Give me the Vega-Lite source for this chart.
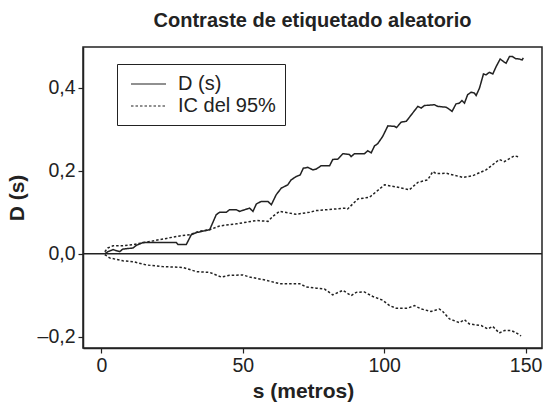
{
  "$schema": "https://vega.github.io/schema/vega-lite/v6.json",
  "autosize": "none",
  "width": 459,
  "height": 301,
  "padding": {"left": 83, "top": 47, "right": 1, "bottom": 55},
  "background": "white",
  "title": {"text": "Contraste de etiquetado aleatorio", "font": "Liberation Sans", "fontSize": 20, "fontWeight": "bold", "color": "#222", "offset": 16, "anchor": "middle"},
  "config": {
    "view": {"stroke": "#222", "strokeWidth": 1.5},
    "axis": {"grid": false, "domainColor": "#222", "domainWidth": 1.5, "tickColor": "#222", "tickWidth": 1.2, "tickSize": 5, "labelFont": "Liberation Sans", "labelFontSize": 19.5, "labelColor": "#222", "titleFont": "Liberation Sans", "titleFontSize": 21, "titleFontWeight": "bold", "titleColor": "#222"}
  },
  "datasets": {
    "curvas": [
      {"s": 1.2, "D": 0.0, "serie": "D (s)", "banda": "D"},
      {"s": 2.3, "D": 0.005, "serie": "D (s)", "banda": "D"},
      {"s": 4.1, "D": 0.01, "serie": "D (s)", "banda": "D"},
      {"s": 6.5, "D": 0.005, "serie": "D (s)", "banda": "D"},
      {"s": 7.5, "D": 0.011, "serie": "D (s)", "banda": "D"},
      {"s": 11.2, "D": 0.014, "serie": "D (s)", "banda": "D"},
      {"s": 12.3, "D": 0.02, "serie": "D (s)", "banda": "D"},
      {"s": 14.7, "D": 0.027, "serie": "D (s)", "banda": "D"},
      {"s": 26.5, "D": 0.027, "serie": "D (s)", "banda": "D"},
      {"s": 27.1, "D": 0.022, "serie": "D (s)", "banda": "D"},
      {"s": 30.0, "D": 0.022, "serie": "D (s)", "banda": "D"},
      {"s": 31.8, "D": 0.046, "serie": "D (s)", "banda": "D"},
      {"s": 33.6, "D": 0.051, "serie": "D (s)", "banda": "D"},
      {"s": 38.3, "D": 0.058, "serie": "D (s)", "banda": "D"},
      {"s": 40.6, "D": 0.094, "serie": "D (s)", "banda": "D"},
      {"s": 41.8, "D": 0.1, "serie": "D (s)", "banda": "D"},
      {"s": 44.2, "D": 0.1, "serie": "D (s)", "banda": "D"},
      {"s": 45.3, "D": 0.106, "serie": "D (s)", "banda": "D"},
      {"s": 47.7, "D": 0.106, "serie": "D (s)", "banda": "D"},
      {"s": 48.9, "D": 0.102, "serie": "D (s)", "banda": "D"},
      {"s": 52.4, "D": 0.11, "serie": "D (s)", "banda": "D"},
      {"s": 53.6, "D": 0.102, "serie": "D (s)", "banda": "D"},
      {"s": 54.8, "D": 0.12, "serie": "D (s)", "banda": "D"},
      {"s": 56.5, "D": 0.126, "serie": "D (s)", "banda": "D"},
      {"s": 58.9, "D": 0.126, "serie": "D (s)", "banda": "D"},
      {"s": 60.1, "D": 0.118, "serie": "D (s)", "banda": "D"},
      {"s": 61.8, "D": 0.142, "serie": "D (s)", "banda": "D"},
      {"s": 63.6, "D": 0.158, "serie": "D (s)", "banda": "D"},
      {"s": 65.9, "D": 0.166, "serie": "D (s)", "banda": "D"},
      {"s": 67.1, "D": 0.178, "serie": "D (s)", "banda": "D"},
      {"s": 68.9, "D": 0.186, "serie": "D (s)", "banda": "D"},
      {"s": 70.3, "D": 0.19, "serie": "D (s)", "banda": "D"},
      {"s": 71.4, "D": 0.206, "serie": "D (s)", "banda": "D"},
      {"s": 73.0, "D": 0.208, "serie": "D (s)", "banda": "D"},
      {"s": 74.8, "D": 0.202, "serie": "D (s)", "banda": "D"},
      {"s": 76.0, "D": 0.204, "serie": "D (s)", "banda": "D"},
      {"s": 77.7, "D": 0.212, "serie": "D (s)", "banda": "D"},
      {"s": 80.7, "D": 0.212, "serie": "D (s)", "banda": "D"},
      {"s": 81.8, "D": 0.227, "serie": "D (s)", "banda": "D"},
      {"s": 83.6, "D": 0.228, "serie": "D (s)", "banda": "D"},
      {"s": 85.4, "D": 0.241, "serie": "D (s)", "banda": "D"},
      {"s": 87.7, "D": 0.239, "serie": "D (s)", "banda": "D"},
      {"s": 88.3, "D": 0.234, "serie": "D (s)", "banda": "D"},
      {"s": 89.5, "D": 0.241, "serie": "D (s)", "banda": "D"},
      {"s": 93.0, "D": 0.241, "serie": "D (s)", "banda": "D"},
      {"s": 94.2, "D": 0.248, "serie": "D (s)", "banda": "D"},
      {"s": 95.4, "D": 0.243, "serie": "D (s)", "banda": "D"},
      {"s": 96.6, "D": 0.26, "serie": "D (s)", "banda": "D"},
      {"s": 97.7, "D": 0.265, "serie": "D (s)", "banda": "D"},
      {"s": 99.5, "D": 0.283, "serie": "D (s)", "banda": "D"},
      {"s": 101.3, "D": 0.308, "serie": "D (s)", "banda": "D"},
      {"s": 103.6, "D": 0.307, "serie": "D (s)", "banda": "D"},
      {"s": 104.4, "D": 0.304, "serie": "D (s)", "banda": "D"},
      {"s": 106.0, "D": 0.317, "serie": "D (s)", "banda": "D"},
      {"s": 107.8, "D": 0.319, "serie": "D (s)", "banda": "D"},
      {"s": 111.9, "D": 0.355, "serie": "D (s)", "banda": "D"},
      {"s": 113.1, "D": 0.351, "serie": "D (s)", "banda": "D"},
      {"s": 114.2, "D": 0.357, "serie": "D (s)", "banda": "D"},
      {"s": 117.8, "D": 0.359, "serie": "D (s)", "banda": "D"},
      {"s": 118.9, "D": 0.355, "serie": "D (s)", "banda": "D"},
      {"s": 121.9, "D": 0.353, "serie": "D (s)", "banda": "D"},
      {"s": 122.8, "D": 0.349, "serie": "D (s)", "banda": "D"},
      {"s": 124.0, "D": 0.343, "serie": "D (s)", "banda": "D"},
      {"s": 125.4, "D": 0.361, "serie": "D (s)", "banda": "D"},
      {"s": 126.6, "D": 0.363, "serie": "D (s)", "banda": "D"},
      {"s": 127.5, "D": 0.369, "serie": "D (s)", "banda": "D"},
      {"s": 128.4, "D": 0.363, "serie": "D (s)", "banda": "D"},
      {"s": 129.5, "D": 0.383, "serie": "D (s)", "banda": "D"},
      {"s": 130.7, "D": 0.389, "serie": "D (s)", "banda": "D"},
      {"s": 131.9, "D": 0.387, "serie": "D (s)", "banda": "D"},
      {"s": 132.5, "D": 0.381, "serie": "D (s)", "banda": "D"},
      {"s": 133.7, "D": 0.399, "serie": "D (s)", "banda": "D"},
      {"s": 135.1, "D": 0.433, "serie": "D (s)", "banda": "D"},
      {"s": 136.0, "D": 0.431, "serie": "D (s)", "banda": "D"},
      {"s": 137.2, "D": 0.437, "serie": "D (s)", "banda": "D"},
      {"s": 138.4, "D": 0.433, "serie": "D (s)", "banda": "D"},
      {"s": 139.6, "D": 0.451, "serie": "D (s)", "banda": "D"},
      {"s": 141.0, "D": 0.469, "serie": "D (s)", "banda": "D"},
      {"s": 142.2, "D": 0.463, "serie": "D (s)", "banda": "D"},
      {"s": 143.1, "D": 0.459, "serie": "D (s)", "banda": "D"},
      {"s": 144.3, "D": 0.475, "serie": "D (s)", "banda": "D"},
      {"s": 145.4, "D": 0.475, "serie": "D (s)", "banda": "D"},
      {"s": 146.4, "D": 0.47, "serie": "D (s)", "banda": "D"},
      {"s": 147.8, "D": 0.469, "serie": "D (s)", "banda": "D"},
      {"s": 148.8, "D": 0.467, "serie": "D (s)", "banda": "D"},
      {"s": 149.2, "D": 0.472, "serie": "D (s)", "banda": "D"},

      {"s": 1.2, "D": 0.005, "serie": "IC del 95%", "banda": "sup"},
      {"s": 2.3, "D": 0.014, "serie": "IC del 95%", "banda": "sup"},
      {"s": 4.1, "D": 0.019, "serie": "IC del 95%", "banda": "sup"},
      {"s": 7.6, "D": 0.019, "serie": "IC del 95%", "banda": "sup"},
      {"s": 11.2, "D": 0.022, "serie": "IC del 95%", "banda": "sup"},
      {"s": 15.9, "D": 0.028, "serie": "IC del 95%", "banda": "sup"},
      {"s": 23.0, "D": 0.037, "serie": "IC del 95%", "banda": "sup"},
      {"s": 27.7, "D": 0.043, "serie": "IC del 95%", "banda": "sup"},
      {"s": 31.2, "D": 0.046, "serie": "IC del 95%", "banda": "sup"},
      {"s": 34.7, "D": 0.054, "serie": "IC del 95%", "banda": "sup"},
      {"s": 38.3, "D": 0.058, "serie": "IC del 95%", "banda": "sup"},
      {"s": 41.8, "D": 0.067, "serie": "IC del 95%", "banda": "sup"},
      {"s": 47.7, "D": 0.072, "serie": "IC del 95%", "banda": "sup"},
      {"s": 54.8, "D": 0.08, "serie": "IC del 95%", "banda": "sup"},
      {"s": 58.9, "D": 0.078, "serie": "IC del 95%", "banda": "sup"},
      {"s": 60.6, "D": 0.09, "serie": "IC del 95%", "banda": "sup"},
      {"s": 63.0, "D": 0.102, "serie": "IC del 95%", "banda": "sup"},
      {"s": 68.9, "D": 0.095, "serie": "IC del 95%", "banda": "sup"},
      {"s": 73.6, "D": 0.1, "serie": "IC del 95%", "banda": "sup"},
      {"s": 76.0, "D": 0.104, "serie": "IC del 95%", "banda": "sup"},
      {"s": 86.6, "D": 0.11, "serie": "IC del 95%", "banda": "sup"},
      {"s": 87.1, "D": 0.108, "serie": "IC del 95%", "banda": "sup"},
      {"s": 90.7, "D": 0.132, "serie": "IC del 95%", "banda": "sup"},
      {"s": 94.8, "D": 0.136, "serie": "IC del 95%", "banda": "sup"},
      {"s": 100.1, "D": 0.166, "serie": "IC del 95%", "banda": "sup"},
      {"s": 104.2, "D": 0.161, "serie": "IC del 95%", "banda": "sup"},
      {"s": 108.9, "D": 0.154, "serie": "IC del 95%", "banda": "sup"},
      {"s": 111.9, "D": 0.172, "serie": "IC del 95%", "banda": "sup"},
      {"s": 115.4, "D": 0.178, "serie": "IC del 95%", "banda": "sup"},
      {"s": 117.2, "D": 0.198, "serie": "IC del 95%", "banda": "sup"},
      {"s": 118.4, "D": 0.193, "serie": "IC del 95%", "banda": "sup"},
      {"s": 121.9, "D": 0.194, "serie": "IC del 95%", "banda": "sup"},
      {"s": 127.8, "D": 0.184, "serie": "IC del 95%", "banda": "sup"},
      {"s": 131.3, "D": 0.188, "serie": "IC del 95%", "banda": "sup"},
      {"s": 136.0, "D": 0.202, "serie": "IC del 95%", "banda": "sup"},
      {"s": 140.7, "D": 0.227, "serie": "IC del 95%", "banda": "sup"},
      {"s": 142.5, "D": 0.222, "serie": "IC del 95%", "banda": "sup"},
      {"s": 146.0, "D": 0.236, "serie": "IC del 95%", "banda": "sup"},
      {"s": 147.8, "D": 0.233, "serie": "IC del 95%", "banda": "sup"},

      {"s": 1.2, "D": -0.002, "serie": "IC del 95%", "banda": "inf"},
      {"s": 2.9, "D": -0.01, "serie": "IC del 95%", "banda": "inf"},
      {"s": 7.6, "D": -0.017, "serie": "IC del 95%", "banda": "inf"},
      {"s": 11.2, "D": -0.019, "serie": "IC del 95%", "banda": "inf"},
      {"s": 15.9, "D": -0.027, "serie": "IC del 95%", "banda": "inf"},
      {"s": 21.8, "D": -0.031, "serie": "IC del 95%", "banda": "inf"},
      {"s": 28.8, "D": -0.033, "serie": "IC del 95%", "banda": "inf"},
      {"s": 33.6, "D": -0.043, "serie": "IC del 95%", "banda": "inf"},
      {"s": 38.3, "D": -0.045, "serie": "IC del 95%", "banda": "inf"},
      {"s": 42.4, "D": -0.056, "serie": "IC del 95%", "banda": "inf"},
      {"s": 45.3, "D": -0.052, "serie": "IC del 95%", "banda": "inf"},
      {"s": 50.0, "D": -0.051, "serie": "IC del 95%", "banda": "inf"},
      {"s": 52.4, "D": -0.056, "serie": "IC del 95%", "banda": "inf"},
      {"s": 58.3, "D": -0.064, "serie": "IC del 95%", "banda": "inf"},
      {"s": 63.0, "D": -0.072, "serie": "IC del 95%", "banda": "inf"},
      {"s": 70.1, "D": -0.072, "serie": "IC del 95%", "banda": "inf"},
      {"s": 72.4, "D": -0.08, "serie": "IC del 95%", "banda": "inf"},
      {"s": 76.0, "D": -0.083, "serie": "IC del 95%", "banda": "inf"},
      {"s": 78.9, "D": -0.085, "serie": "IC del 95%", "banda": "inf"},
      {"s": 81.8, "D": -0.099, "serie": "IC del 95%", "banda": "inf"},
      {"s": 85.4, "D": -0.088, "serie": "IC del 95%", "banda": "inf"},
      {"s": 88.3, "D": -0.101, "serie": "IC del 95%", "banda": "inf"},
      {"s": 90.1, "D": -0.093, "serie": "IC del 95%", "banda": "inf"},
      {"s": 93.0, "D": -0.092, "serie": "IC del 95%", "banda": "inf"},
      {"s": 96.0, "D": -0.103, "serie": "IC del 95%", "banda": "inf"},
      {"s": 99.5, "D": -0.112, "serie": "IC del 95%", "banda": "inf"},
      {"s": 101.9, "D": -0.125, "serie": "IC del 95%", "banda": "inf"},
      {"s": 104.2, "D": -0.131, "serie": "IC del 95%", "banda": "inf"},
      {"s": 108.3, "D": -0.131, "serie": "IC del 95%", "banda": "inf"},
      {"s": 110.7, "D": -0.125, "serie": "IC del 95%", "banda": "inf"},
      {"s": 113.1, "D": -0.133, "serie": "IC del 95%", "banda": "inf"},
      {"s": 116.6, "D": -0.139, "serie": "IC del 95%", "banda": "inf"},
      {"s": 119.5, "D": -0.133, "serie": "IC del 95%", "banda": "inf"},
      {"s": 120.7, "D": -0.139, "serie": "IC del 95%", "banda": "inf"},
      {"s": 123.1, "D": -0.157, "serie": "IC del 95%", "banda": "inf"},
      {"s": 126.6, "D": -0.166, "serie": "IC del 95%", "banda": "inf"},
      {"s": 128.4, "D": -0.159, "serie": "IC del 95%", "banda": "inf"},
      {"s": 130.1, "D": -0.169, "serie": "IC del 95%", "banda": "inf"},
      {"s": 134.3, "D": -0.173, "serie": "IC del 95%", "banda": "inf"},
      {"s": 136.6, "D": -0.181, "serie": "IC del 95%", "banda": "inf"},
      {"s": 138.4, "D": -0.175, "serie": "IC del 95%", "banda": "inf"},
      {"s": 140.7, "D": -0.191, "serie": "IC del 95%", "banda": "inf"},
      {"s": 142.5, "D": -0.185, "serie": "IC del 95%", "banda": "inf"},
      {"s": 144.9, "D": -0.185, "serie": "IC del 95%", "banda": "inf"},
      {"s": 146.6, "D": -0.19, "serie": "IC del 95%", "banda": "inf"},
      {"s": 148.4, "D": -0.198, "serie": "IC del 95%", "banda": "inf"}
    ],
    "cero": [{"y": 0}]
  },
  "layer": [
    {
      "data": {"name": "cero"},
      "mark": {"type": "rule", "color": "#222", "strokeWidth": 1.5},
      "encoding": {"y": {"field": "y", "type": "quantitative"}}
    },
    {
      "data": {"name": "curvas"},
      "mark": {"type": "line", "color": "#222", "strokeWidth": 1.5},
      "encoding": {
        "x": {"field": "s", "type": "quantitative", "title": "s (metros)",
              "scale": {"domain": [-6.5, 155.8], "nice": false, "zero": false},
              "axis": {"values": [0, 50, 100, 150], "labelPadding": 3, "titlePadding": 6, "titleX": 220}},
        "y": {"field": "D", "type": "quantitative", "title": "D (s)",
              "scale": {"domain": [-0.227, 0.498], "nice": false, "zero": false},
              "axis": {"values": [-0.2, 0, 0.2, 0.4], "labelPadding": 3, "titlePadding": 10,
                       "labelExpr": "datum.value < 0 ? '–' + replace(format(-datum.value, '.1f'), '.', ',') : replace(format(datum.value, '.1f'), '.', ',')"}},
        "detail": {"field": "banda"},
        "strokeDash": {"field": "serie", "type": "nominal",
                       "scale": {"domain": ["D (s)", "IC del 95%"], "range": [[1, 0], [2.5, 2]]},
                       "legend": {"title": null, "orient": "none", "legendX": 34, "legendY": 17,
                                  "strokeColor": "#222", "padding": 9, "symbolOffset": 11.5,
                                  "symbolType": "M-1.75,0H1.75", "symbolSize": 400,
                                  "symbolStrokeWidth": 1.2, "symbolStrokeColor": "#222", "symbolFillColor": "transparent",
                                  "labelFont": "Liberation Sans", "labelFontSize": 20, "labelColor": "#222", "labelOffset": 18.5,
                                  "rowPadding": 1, "labelLimit": 200}}
      }
    }
  ]
}
